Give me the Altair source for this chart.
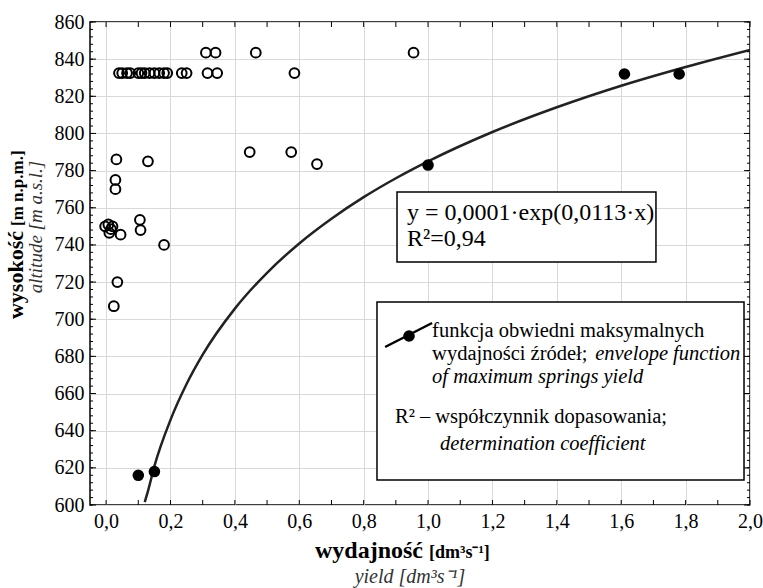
import altair as alt
import pandas as pd

# ---------------- data ----------------
open_x = [0.04, 0.05, 0.065, 0.075, 0.10, 0.11, 0.12, 0.135, 0.15, 0.165, 0.18, 0.19,
          0.235, 0.25, 0.315, 0.345, 0.585,
          0.31, 0.34, 0.465, 0.955,
          0.032, 0.13, 0.446, 0.575, 0.655,
          0.029, 0.029, 0.105, 0.107,
          -0.003, 0.007, 0.02, 0.015, 0.01, 0.045,
          0.18, 0.035, 0.024]
open_y = [832.5, 832.5, 832.5, 832.5, 832.5, 832.5, 832.5, 832.5, 832.5, 832.5, 832.5, 832.5,
          832.5, 832.5, 832.5, 832.5, 832.5,
          843.5, 843.5, 843.5, 843.5,
          786, 785, 790, 790, 783.5,
          775, 770, 753.5, 748,
          750, 751, 750, 748.5, 746.5, 745.5,
          740, 720, 707]

black_x = [0.10, 0.15, 1.00, 1.61, 1.78]
black_y = [616, 618, 783, 832, 832]

curve_x = [0.12, 0.13, 0.15, 0.2, 0.25, 0.3, 0.4, 0.5, 0.6, 0.7, 0.8, 0.9, 1.0,
           1.2, 1.4, 1.6, 1.8, 2.0]
curve_y = [601.6, 607.5, 620.9, 645.8, 665.1, 680.9, 705.7, 725.0, 740.8, 754.1, 765.7,
           775.9, 785.0, 800.8, 814.1, 825.7, 835.8, 845.0]

x_labels = [0.0, 0.2, 0.4, 0.6, 0.8, 1.0, 1.2, 1.4, 1.6, 1.8, 2.0]
y_labels = [600, 620, 640, 660, 680, 700, 720, 740, 760, 780, 800, 820, 840, 860]
x_ticks = [0.0, 0.1, 0.2, 0.3, 0.4, 0.5, 0.6, 0.7, 0.8, 0.9, 1.0,
           1.1, 1.2, 1.3, 1.4, 1.5, 1.6, 1.7, 1.8, 1.9, 2.0]
y_minor = list(range(600, 861, 4))

# ---------------- styling ----------------
FONT = "Liberation Serif"
W, H = 660, 483
xs = alt.Scale(domain=[-0.05, 2.0], nice=False, zero=False)
ys = alt.Scale(domain=[600, 860], nice=False, zero=False)
lab_expr = "replace(format(datum.value, '.1f'), '.', ',')"

axX = alt.Axis(values=x_labels, labelExpr=lab_expr, grid=True, ticks=False, title=None,
               domain=False, labelPadding=6, labelFont=FONT, labelFontSize=20,
               labelColor="black", labelOverlap=False, labelFlush=False)
axY = alt.Axis(values=y_labels, grid=True, ticks=False, domain=False, title=None,
               labelPadding=6, labelFont=FONT, labelFontSize=20,
               labelColor="black", labelOverlap=False, labelFlush=False)

open_df = pd.DataFrame({"x": open_x, "y": open_y})
black_df = pd.DataFrame({"x": black_x, "y": black_y})
curve_df = pd.DataFrame({"x": curve_x, "y": curve_y})
xt_df = pd.DataFrame({"x": x_ticks})
ymaj_df = pd.DataFrame({"y": y_labels})
ymin_df = pd.DataFrame({"y": y_minor})

X = alt.X("x:Q", scale=xs, title=None, axis=axX)
Y = alt.Y("y:Q", scale=ys, title=None, axis=axY)

curve = alt.Chart(curve_df).mark_line(color="#222222", strokeWidth=2.5,
                                      interpolate="monotone", clip=True).encode(x=X, y=Y)
opens = alt.Chart(open_df).mark_point(shape="circle", filled=False, color="black",
                                      strokeWidth=2, size=95, opacity=1).encode(x=X, y=Y)
blacks = alt.Chart(black_df).mark_circle(color="black", size=135, opacity=1).encode(x=X, y=Y)

tick_bot = alt.Chart(xt_df).mark_rule(color="black", strokeWidth=1).encode(
    x=X, y=alt.value(H), y2=alt.value(H - 5))
tick_top = alt.Chart(xt_df).mark_rule(color="black", strokeWidth=1).encode(
    x=X, y=alt.value(0), y2=alt.value(5))
ymaj_l = alt.Chart(ymaj_df).mark_rule(color="black", strokeWidth=1).encode(
    y=Y, x=alt.value(0), x2=alt.value(6))
ymaj_r = alt.Chart(ymaj_df).mark_rule(color="black", strokeWidth=1).encode(
    y=Y, x=alt.value(W), x2=alt.value(W - 6))
ymin_l = alt.Chart(ymin_df).mark_rule(color="black", strokeWidth=1).encode(
    y=Y, x=alt.value(0), x2=alt.value(3))
ymin_r = alt.Chart(ymin_df).mark_rule(color="black", strokeWidth=1).encode(
    y=Y, x=alt.value(W), x2=alt.value(W - 3))

ann = alt.Data(values=[{}])


def dx(v):
    return alt.XDatum(v, axis=axX, scale=xs, title=None)


def dy(v):
    return alt.YDatum(v, axis=axY, scale=ys, title=None)


def dtext(s, x, y, size, style="normal", weight="normal", align="left", color="black"):
    return alt.Chart(ann).mark_text(text=s, font=FONT, fontSize=size, fontStyle=style,
                                    fontWeight=weight, align=align, baseline="alphabetic",
                                    color=color).encode(x=dx(x), y=dy(y))


def ptext(s, x, y, size, style="normal", weight="normal", align="left", color="black",
          angle=0):
    return alt.Chart(ann).mark_text(text=s, font=FONT, fontSize=size, fontStyle=style,
                                    fontWeight=weight, align=align, baseline="alphabetic",
                                    color=color, angle=angle).encode(
        x=alt.value(x), y=alt.value(y))


def box(x1, x2, y1, y2):
    return alt.Chart(ann).mark_rect(fill="white", stroke="black", strokeWidth=1.5).encode(
        x=dx(x1), x2=alt.X2Datum(x2), y=dy(y1), y2=alt.Y2Datum(y2))


eq_box = box(0.9036, 1.7079, 768.5, 730.8)
eq1 = dtext("y = 0,0001·exp(0,0113·x)", 0.9346, 753.4, 24)
eq2 = dtext("R²=0,94", 0.9346, 739.4, 24)

lg_box = box(0.8414, 1.9814, 709.3, 613.5)
lg_line = alt.Chart(ann).mark_rule(color="black", strokeWidth=2.5).encode(
    x=dx(0.8666), x2=alt.X2Datum(1.0125), y=dy(685.05), y2=alt.Y2Datum(697.97))
lg_dot = alt.Chart(ann).mark_circle(color="black", size=135, opacity=1).encode(
    x=dx(0.9409), y=dy(690.97))
LG = 20.5
lg1 = dtext("funkcja obwiedni maksymalnych", 1.0125, 690.4, LG)
lg2a = dtext("wydajności źródeł;", 1.0125, 678.1, LG)
lg2b = dtext("envelope function", 1.519, 678.1, LG, style="italic")
lg3 = dtext("of maximum springs yield", 1.0125, 665.7, LG, style="italic")
lg4 = dtext("R² – współczynnik dopasowania;", 0.8973, 644.1, LG)
lg5 = dtext("determination coefficient", 1.0372, 629.6, LG, style="italic")

xt1 = ptext("wydajność", 333, 536, 24, weight="bold", align="right")
xt2 = ptext("[dm³s⁻¹]", 339, 536, 18, weight="bold")
xt3 = ptext("yield [dm³s⁻¹]", 320, 561, 20, style="italic", align="center", color="#333333")

yt1 = ptext("wysokość", -67, 209, 22, weight="bold", align="right", angle=270)
yt2 = ptext("[m n.p.m.]", -67, 204, 17, weight="bold", align="left", angle=270)
yt3 = ptext("altitude [m a.s.l.]", -48, 205, 19, style="italic", align="center",
            color="#333333", angle=270)

chart = alt.layer(
    curve, tick_bot, tick_top, ymaj_l, ymaj_r, ymin_l, ymin_r,
    opens, blacks,
    eq_box, eq1, eq2,
    lg_box, lg_line, lg_dot, lg1, lg2a, lg2b, lg3, lg4, lg5,
    xt1, xt2, xt3, yt1, yt2, yt3,
).properties(
    width=W, height=H,
    autosize=alt.AutoSizeParams(type="none"),
    padding={"left": 90, "top": 22, "right": 13, "bottom": 83},
    background="white",
).configure_view(
    stroke="black", strokeWidth=1.5
).configure_axis(
    labelFont=FONT, labelFontSize=20, labelColor="black", labelOverlap=False,
    gridColor="#d9d9d9", gridWidth=1
)

chart.save("out.html", embed_options={"renderer": "svg", "actions": False})
